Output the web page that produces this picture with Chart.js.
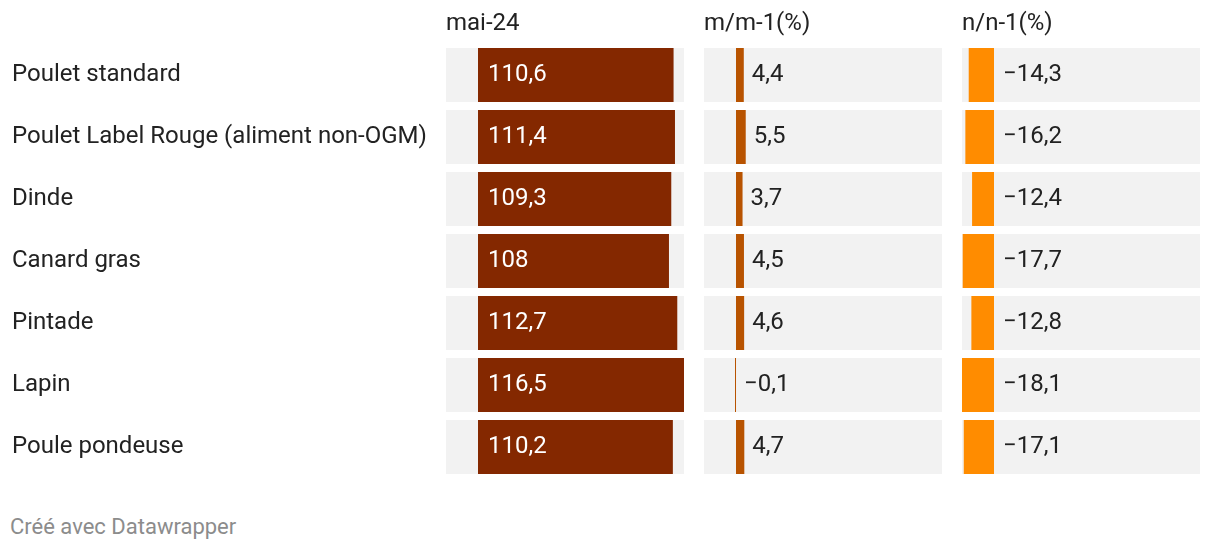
<!DOCTYPE html>
<html lang="fr">
<head>
<meta charset="utf-8">
<script src="https://cdn.jsdelivr.net/npm/chart.js@4.4.1/dist/chart.umd.min.js"></script>
<style>
  body { margin: 0; background: #fff; }
  #wrap { position: relative; width: 1220px; height: 550px; font-family: Roboto, sans-serif; }
  #wrap canvas { position: absolute; top: 0; }
  #credit { position: absolute; left: 10px; top: 514px; font-size: 22px; line-height: normal; color: #8c8c8c; }
</style>
</head>
<body>
<div id="wrap">
  <canvas id="chartMai" width="684" height="478" style="left:0"></canvas>
  <canvas id="chartMm" width="238" height="478" style="left:704px"></canvas>
  <canvas id="chartNn" width="238" height="478" style="left:962px"></canvas>
  <div id="credit">Créé avec Datawrapper</div>
</div>
<script>
const categories = [
  'Poulet standard',
  'Poulet Label Rouge (aliment non-OGM)',
  'Dinde',
  'Canard gras',
  'Pintade',
  'Lapin',
  'Poule pondeuse'
];
const indexMai24 = [110.6, 111.4, 109.3, 108, 112.7, 116.5, 110.2];
const varMonth = [4.4, 5.5, 3.7, 4.5, 4.6, -0.1, 4.7];
const varYear = [-14.3, -16.2, -12.4, -17.7, -12.8, -18.1, -17.1];
const headers = ['mai-24', 'm/m-1(%)', 'n/n-1(%)'];

// all three columns share one scale, like the datawrapper table
const allValues = indexMai24.concat(varMonth, varYear);
const axisMin = Math.min(...allValues);
const axisMax = Math.max(...allValues);

Chart.defaults.font.family = 'Roboto';
Chart.defaults.color = '#222';

function fmt(v) {
  return String(v).replace('.', ',').replace('-', '\u2212');
}

const valueLabels = {
  id: 'valueLabels',
  afterDatasetsDraw(chart, args, opts) {
    const meta = chart.getDatasetMeta(1);
    const values = chart.data.datasets[1].data;
    const ctx = chart.ctx;
    ctx.save();
    ctx.font = opts.size + 'px Roboto';
    ctx.fillStyle = opts.color;
    ctx.textAlign = 'left';
    ctx.textBaseline = 'middle';
    meta.data.forEach((bar, i) => {
      const x = opts.inside ? bar.base + opts.gap : Math.max(bar.x, bar.base) + opts.gap;
      ctx.fillText(fmt(values[i]), x, bar.y);
    });
    ctx.restore();
  }
};

function makeChart(id, values, color, header, labelOpts, showCategories) {
  const yScale = {
    display: showCategories,
    grid: { display: false },
    border: { display: false },
    ticks: { crossAlign: 'far', color: '#222', font: { size: 24 }, padding: 0 }
  };
  if (showCategories) {
    yScale.afterFit = s => {
      s.width = 434;
      s.paddingTop = 0;
      s.paddingBottom = 0;
    };
  }

  return new Chart(document.getElementById(id), {
    type: 'bar',
    data: {
      labels: categories,
      datasets: [
        { data: categories.map(() => [axisMin, axisMax]), backgroundColor: '#f2f2f2', order: 2 },
        { data: values, backgroundColor: color, order: 1, minBarLength: 1 }
      ]
    },
    options: {
      indexAxis: 'y',
      responsive: false,
      animation: false,
      layout: { padding: { left: showCategories ? 12 : 0, top: 0, right: 0, bottom: 0 } },
      datasets: { bar: { grouped: false, barPercentage: 54 / 62, categoryPercentage: 1, borderWidth: 0 } },
      scales: {
        x: {
          type: 'linear',
          position: 'top',
          min: axisMin,
          max: axisMax,
          grid: { display: false },
          border: { display: false },
          ticks: { display: false },
          title: { display: true, text: header, align: 'start', color: '#222', font: { size: 24 }, padding: { top: 10, bottom: 0 } },
          afterFit: s => { s.height = 44; }
        },
        y: yScale
      },
      plugins: {
        legend: { display: false },
        tooltip: { enabled: false },
        valueLabels: labelOpts
      }
    },
    plugins: [valueLabels]
  });
}

makeChart('chartMai', indexMai24, '#842800', headers[0], { color: '#fff', inside: true, gap: 10, size: 24 }, true);
makeChart('chartMm', varMonth, '#b85300', headers[1], { color: '#222', inside: false, gap: 8, size: 24 }, false);
makeChart('chartNn', varYear, '#ff8c00', headers[2], { color: '#222', inside: false, gap: 9, size: 24 }, false);
</script>
</body>
</html>
